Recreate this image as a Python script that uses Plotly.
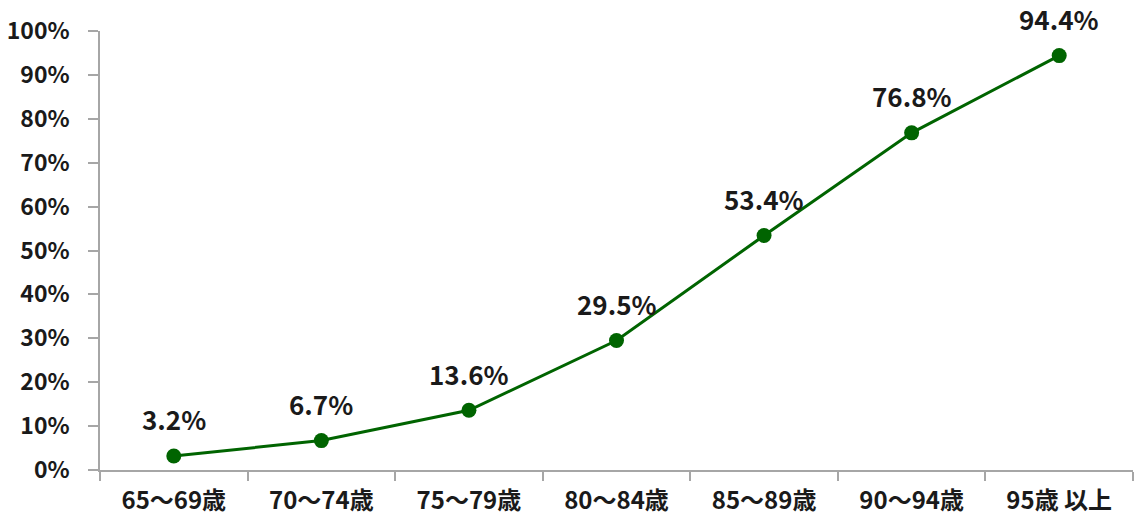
import plotly.graph_objects as go

categories = ["65～69歳", "70～74歳", "75～79歳", "80～84歳", "85～89歳", "90～94歳", "95歳 以上"]
values = [0.032, 0.067, 0.136, 0.295, 0.534, 0.768, 0.944]
labels = ["3.2%", "6.7%", "13.6%", "29.5%", "53.4%", "76.8%", "94.4%"]
y_ticks = [0, 0.1, 0.2, 0.3, 0.4, 0.5, 0.6, 0.7, 0.8, 0.9, 1.0]

FONT = "Noto Sans CJK JP"
GREEN = "#006400"
AXIS = "#a6a6a6"

fig = go.Figure()
fig.add_trace(go.Scatter(
    x=categories, y=values, mode="lines+markers",
    line=dict(color=GREEN, width=3),
    marker=dict(color=GREEN, size=15),
    hoverinfo="skip", showlegend=False, cliponaxis=False,
))

for c, v, t in zip(categories, values, labels):
    fig.add_annotation(x=c, y=v, text="<b>%s</b>" % t, showarrow=False,
                       yshift=37, font=dict(family=FONT, size=26, color="#1a1a1a"))

fig.update_layout(
    width=1135, height=517,
    margin=dict(l=100, r=2, t=31, b=47),
    plot_bgcolor="white", paper_bgcolor="white",
    font=dict(family=FONT, color="#1a1a1a"),
)
fig.update_xaxes(
    type="category", range=[-0.5, 6.5], automargin=False,
    showline=True, linecolor=AXIS, linewidth=1.5,
    ticks="outside", tickson="boundaries", ticklen=9, tickcolor=AXIS, tickwidth=1.5,
    ticklabelstandoff=8, showgrid=False,
    tickfont=dict(family=FONT, size=24, weight="bold"),
)
fig.update_yaxes(
    range=[0, 1], tickvals=y_ticks, tickformat=".0%", automargin=False,
    showline=True, linecolor=AXIS, linewidth=1.5,
    ticks="outside", ticklen=10, tickcolor=AXIS, tickwidth=1.5,
    ticklabelstandoff=14, showgrid=False, zeroline=False,
    tickfont=dict(family=FONT, size=23, weight="bold"),
)

fig.write_html("out.html", config={"displayModeBar": False},
               post_script="document.body.style.margin='0';document.body.style.overflow='hidden';")
